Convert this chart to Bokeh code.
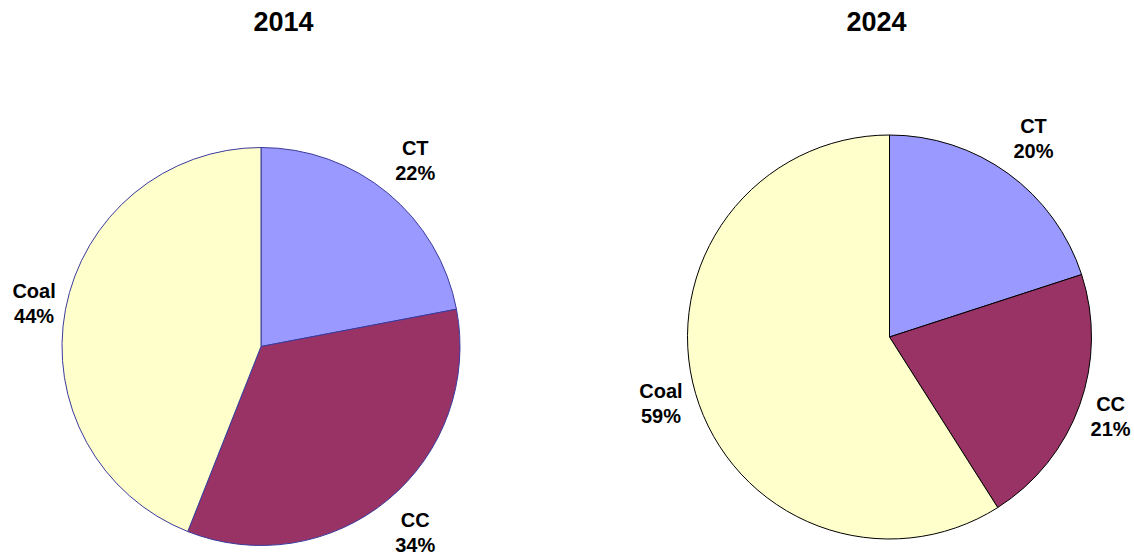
import math
from bokeh.plotting import figure
from bokeh.models import Range1d, ColumnDataSource
from bokeh.core.properties import value
from bokeh.embed import file_html
from bokeh.resources import INLINE

# Capacity mix by technology, percent of total
categories = ["CT", "CC", "Coal"]
colors = ["#9999FF", "#993366", "#FFFFCC"]
years = ["2014", "2024"]
share_2014 = [22, 34, 44]
share_2024 = [20, 21, 59]

W, H = 1134, 558
FONT = "Liberation Sans"

p = figure(width=W, height=H, x_range=Range1d(0, W), y_range=Range1d(0, H),
           output_backend="svg", toolbar_location=None, min_border=0)
p.axis.visible = False
p.grid.visible = False
p.outline_line_color = None
p.background_fill_color = "white"
p.border_fill_color = "white"

# pie layout: centre (y measured from top), radius, outline colour, title x,
# and distance of each data label from the centre along its slice's mid-angle
pies = [
    dict(year=years[0], values=share_2014, cx=260.5, cy=346, r=199, edge="#3a3a9c",
         tx=283, label_dist=[242, 242, 231]),
    dict(year=years[1], values=share_2024, cx=889, cy=336.5, r=202, edge="#000000",
         tx=876, label_dist=[245, 235, 238]),
]

for pie in pies:
    vals = pie["values"]
    total = float(sum(vals))
    cy = H - pie["cy"]
    starts, ends, mids = [], [], []
    cum = 0.0
    for v in vals:
        a_hi = 90 - cum / total * 360
        cum += v
        a_lo = 90 - cum / total * 360
        starts.append(math.radians(a_lo))
        ends.append(math.radians(a_hi))
        mids.append(math.radians((a_lo + a_hi) / 2))
    src = ColumnDataSource(dict(start=starts, end=ends, color=colors,
                                x=[pie["cx"]] * 3, y=[cy] * 3))
    p.wedge(x="x", y="y", radius=pie["r"], start_angle="start", end_angle="end",
            direction="anticlock", fill_color="color", line_color=pie["edge"],
            line_width=1, source=src)

    # data labels outside each slice
    lx = [pie["cx"] + d * math.cos(m) for d, m in zip(pie["label_dist"], mids)]
    ly = [cy + d * math.sin(m) for d, m in zip(pie["label_dist"], mids)]
    pct = [f"{v}%" for v in vals]
    p.text(x=lx, y=[v + 12.5 for v in ly], text=categories, text_font=value(FONT),
           text_font_style="bold", text_font_size="20px", text_align="center",
           text_baseline="middle", text_color="black")
    p.text(x=lx, y=[v - 12.5 for v in ly], text=pct, text_font=value(FONT),
           text_font_style="bold", text_font_size="20px", text_align="center",
           text_baseline="middle", text_color="black")

    # chart title
    p.text(x=[pie["tx"]], y=[H - 21], text=[pie["year"]], text_font=value(FONT),
           text_font_style="bold", text_font_size="27px", text_align="center",
           text_baseline="middle", text_color="black")

open("out.html", "w").write(file_html(p, INLINE))
